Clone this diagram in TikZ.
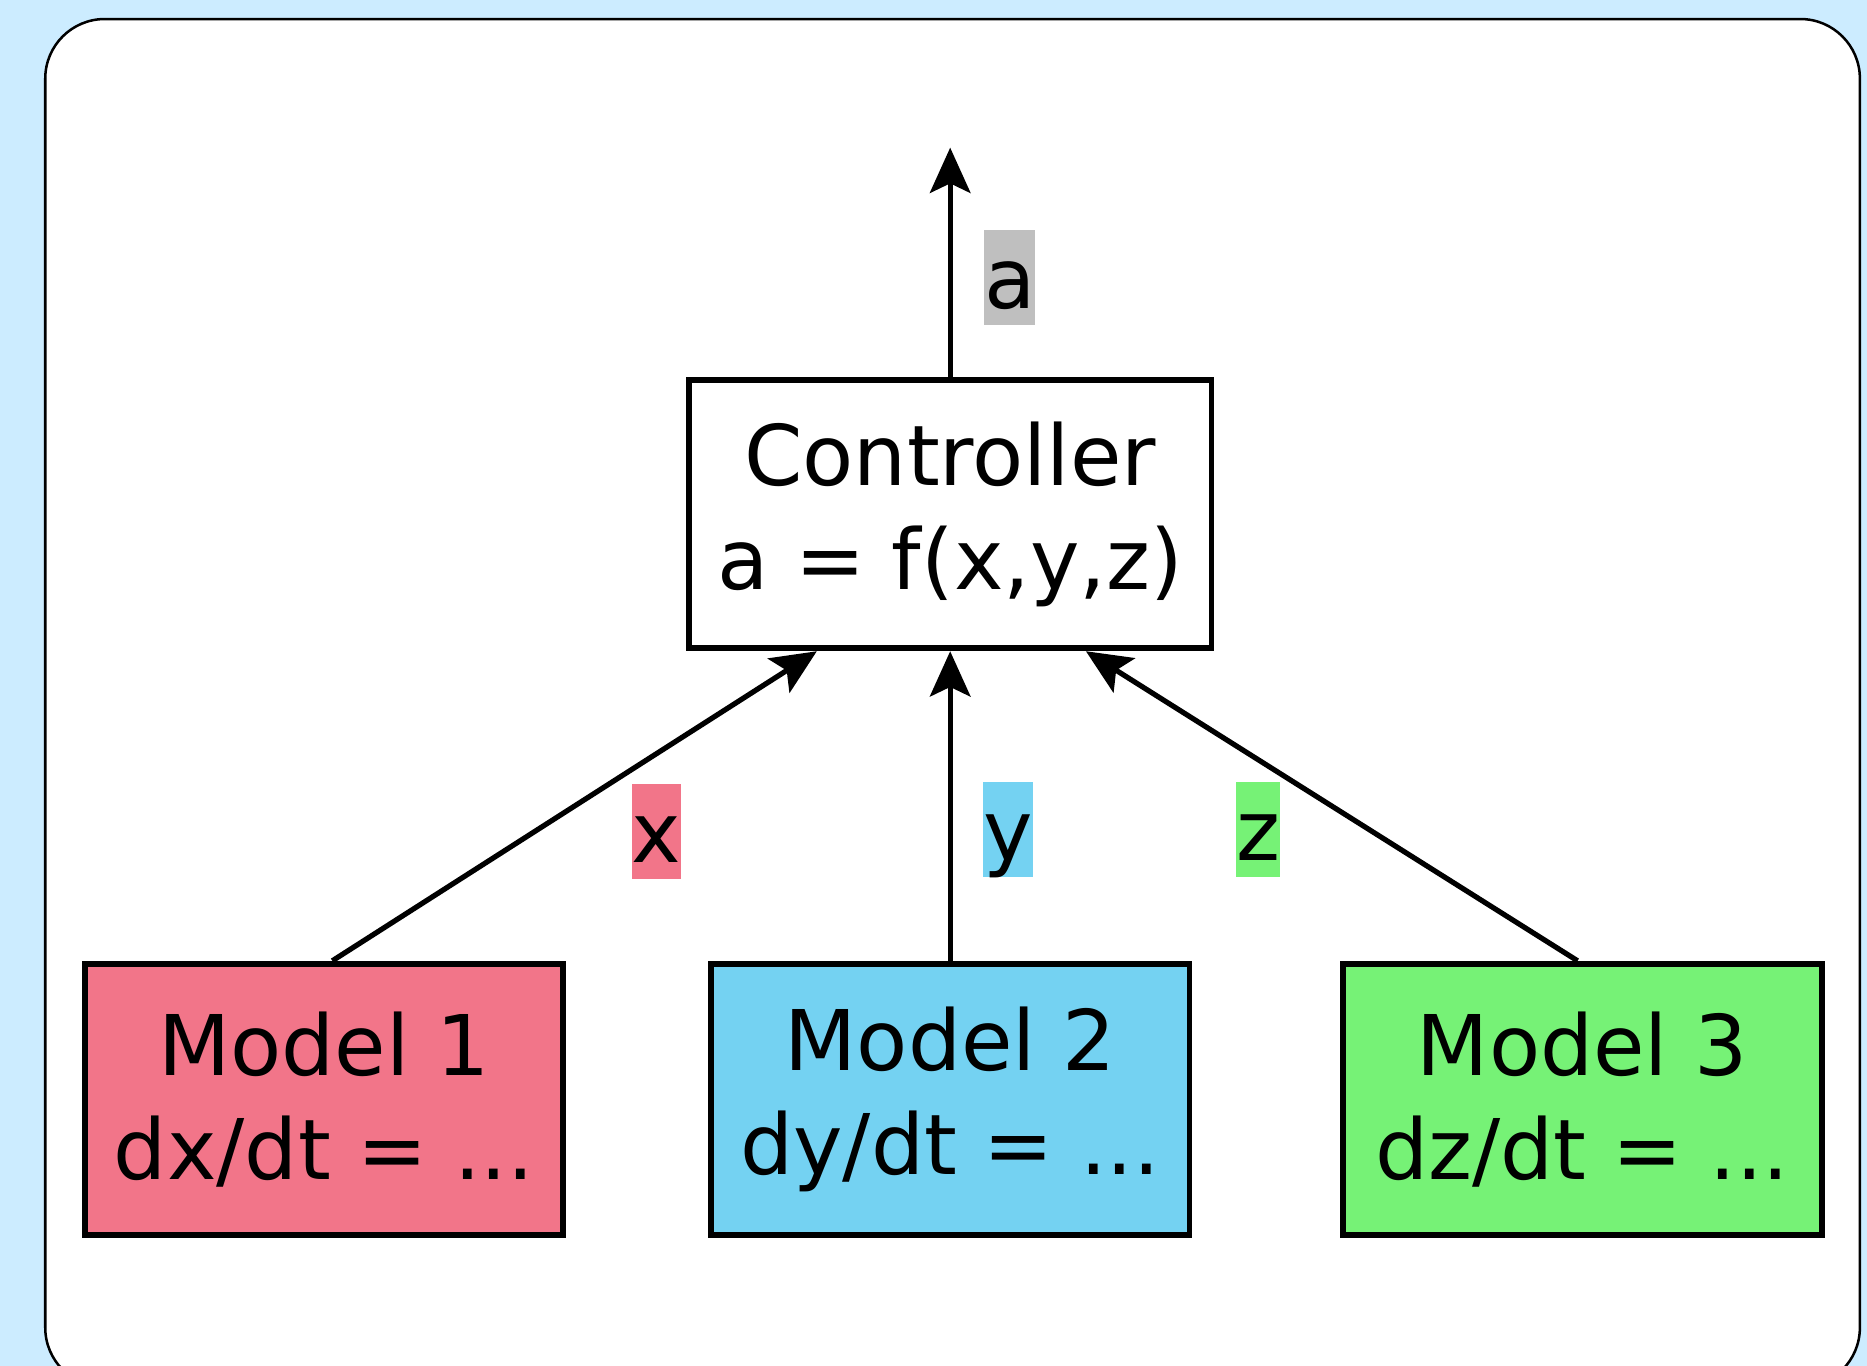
\documentclass[tikz,border=0pt]{standalone}
\usepackage{fontspec}
\setsansfont{DejaVu Sans}
\usepackage{xcolor}
\usepackage{tikz}
\usetikzlibrary{
    positioning,
    arrows.meta,
    calc
}
\definecolor{pagebg}{RGB}{204,236,255}
\definecolor{modelred}{RGB}{242,117,137}
\definecolor{modelblue}{RGB}{116,210,242}
\definecolor{modelgreen}{RGB}{118,242,118}
\definecolor{labelgray}{RGB}{191,191,191}
\tikzset{
    box/.style={
        rectangle, draw=black, line width=1.4pt,
        align=center, inner sep=0pt,
        font=\sffamily\fontsize{20}{24.7}\selectfont
    },
    edgelabel/.style={
        rectangle, inner xsep=0pt, inner ysep=0pt,
        text height=0.66cm, text depth=0.14cm,
        font=\sffamily\fontsize{20}{24.7}\selectfont
    },
    arrow/.style={
        -{Stealth[length=3.8mm, width=3.4mm, inset=0.8mm]}, line width=1.25pt, draw=black
    }
}

\begin{document}
\begin{tikzpicture}[
    ctrl_box/.style={box, fill=white, minimum width=4.39cm, minimum height=2.25cm},
    model_box/.style={box, minimum width=4.02cm, minimum height=2.28cm},
    frame/.style={draw=black, line width=0.6pt, fill=white, rounded corners=0.5cm}
]

    % --- PAGE & FRAME ---
    \fill[pagebg] (0,0) rectangle (15.68,11.47);
    \useasboundingbox (0,0) rectangle (15.68,11.47);
    \draw[frame] (0.38,-0.18) rectangle (15.62,11.31);

    % --- CONTROLLER ---
    \node[ctrl_box] (ctrl) at (7.98,7.15) {Controller\\a = f(x,y,z)};
    \coordinate[above=1.93cm of ctrl.north] (aout);

    % --- MODELS ---
    \node[model_box, fill=modelblue, below=2.6cm of ctrl] (m2) {Model 2\\dy/dt = ...};
    \node[model_box, fill=modelred, left=1.19cm of m2] (m1) {Model 1\\dx/dt = ...};
    \node[model_box, fill=modelgreen, right=1.24cm of m2] (m3) {Model 3\\dz/dt = ...};

    % --- ARROWS ---
    \draw[arrow] (ctrl.north) -- (aout);
    \draw[arrow] ([xshift=0.07cm]m1.north) -- ([xshift=-1.12cm]ctrl.south);
    \draw[arrow] (m2.north) -- (ctrl.south);
    \draw[arrow] ([xshift=-0.04cm]m3.north) -- ([xshift=1.14cm]ctrl.south);

    % --- LABELS ---
    \node[edgelabel, fill=labelgray] (la) at (8.48,9.14) {a};
    \node[edgelabel, fill=modelred] (lx) at (5.515,4.485) {x};
    \node[edgelabel, fill=modelblue] (ly) at (8.465,4.505) {y};
    \node[edgelabel, fill=modelgreen] (lz) at (10.565,4.505) {z};

\end{tikzpicture}
\end{document}
